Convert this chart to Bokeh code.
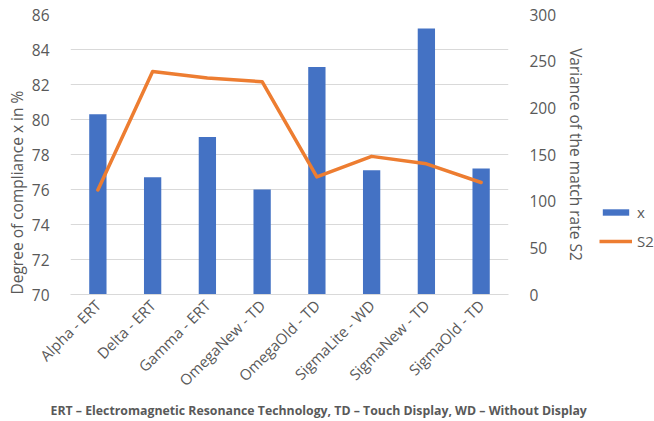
import math
from bokeh.plotting import figure
from bokeh.layouts import row
from bokeh.models import (ColumnDataSource, FactorRange, Range1d, LinearAxis,
                          SingleIntervalTicker, Legend, LegendItem, Title)
from bokeh.embed import file_html
from bokeh.resources import INLINE

categories = ["Alpha - ERT", "Delta - ERT", "Gamma - ERT", "OmegaNew - TD",
              "OmegaOld - TD", "SigmaLite - WD", "SigmaNew - TD", "SigmaOld - TD"]
x_values = [80.3, 76.7, 79.0, 76.0, 83.0, 77.1, 85.2, 77.2]
s2_values = [112, 239, 232, 228, 126, 148, 140, 120]
series_names = ["x", "S2"]

FONT = "Open Sans"
GREY = "#595959"
BLUE = "#4472C4"
ORANGE = "#ED7D31"

src = ColumnDataSource(data=dict(cat=categories, x=x_values, s2=s2_values))

p = figure(x_range=FactorRange(*categories, range_padding=0),
           y_range=Range1d(70, 86),
           width=597, height=421,
           min_border_left=70, min_border_top=14, min_border_right=89,
           min_border_bottom=127,
           output_backend="svg", toolbar_location=None)
p.outline_line_color = None
p.background_fill_color = "white"
p.border_fill_color = "white"

p.extra_y_ranges = {"s2": Range1d(0, 300)}

p.vbar(x="cat", top="x", bottom=70, width=0.316, source=src,
       fill_color=BLUE, line_color=None)
p.line(x="cat", y="s2", source=src, y_range_name="s2",
       line_color=ORANGE, line_width=3.5, line_cap="round", line_join="round")

ya = p.yaxis[0]
ya.ticker = SingleIntervalTicker(interval=2)

ra = LinearAxis(y_range_name="s2", ticker=SingleIntervalTicker(interval=50),
                axis_label="Variance of the match rate S2")
p.add_layout(ra, "right")

for ax in [ya, ra, p.xaxis[0]]:
    ax.axis_line_color = None
    ax.major_tick_line_color = None
    ax.minor_tick_line_color = None
    ax.major_label_text_font = FONT
    ax.major_label_text_font_size = "15.5px"
    ax.major_label_text_color = GREY
    ax.axis_label_text_font = FONT
    ax.axis_label_text_font_size = "15.5px"
    ax.axis_label_text_font_style = "normal"
    ax.axis_label_text_color = GREY

ya.major_label_standoff = 15
ra.major_label_standoff = 15
ra.axis_label_standoff = 6

# left axis title, starting at the bottom of the plot area
ytitle = Title(text="Degree of compliance x in %", align="left",
               text_font=FONT, text_font_size="15.5px", text_font_style="normal",
               text_color=GREY, standoff=1)
p.add_layout(ytitle, "left")

xa = p.xaxis[0]
xa.axis_line_color = "#D9D9D9"
xa.axis_line_width = 1
xa.major_label_orientation = math.pi / 4
xa.major_label_standoff = 2
xa.major_label_text_font_size = "15px"

p.xgrid.grid_line_color = None
p.ygrid.grid_line_color = "#D9D9D9"
p.ygrid.grid_line_width = 1.2

foot = Title(text="ERT \u2013 Electromagnetic Resonance Technology, TD \u2013 Touch Display, WD \u2013 Without Display",
             align="left", text_font=FONT, text_font_size="12.3px",
             text_font_style="bold", text_color=GREY, offset=-20, standoff=0)
p.add_layout(foot, "below")

# legend panel: a small figure holding hidden copies of the two series
lg = figure(width=57, height=421, x_range=FactorRange(*categories),
            y_range=Range1d(0, 300), min_border=0, x_axis_location=None,
            y_axis_location=None, output_backend="svg", toolbar_location=None)
lg.outline_line_color = None
lg.xgrid.grid_line_color = None
lg.ygrid.grid_line_color = None
r_bar = lg.vbar(x="cat", top="x", bottom=70, width=0.3, source=src,
                fill_color=BLUE, line_color=None, visible=False)
r_line = lg.line(x="cat", y="s2", source=src, line_color=ORANGE, line_width=3.5,
                 visible=False)
legend = Legend(items=[LegendItem(label=series_names[0], renderers=[r_bar]),
                       LegendItem(label=series_names[1], renderers=[r_line])],
                location=(2, 43), click_policy="none",
                label_text_font=FONT, label_text_font_size="15px",
                label_text_color=GREY, glyph_width=33, glyph_height=8,
                label_height=18, spacing=9, border_line_color=None,
                background_fill_alpha=0, padding=0, margin=0, label_standoff=5)
lg.add_layout(legend)

layout = row(p, lg)
open("out.html", "w").write(file_html(layout, INLINE))
